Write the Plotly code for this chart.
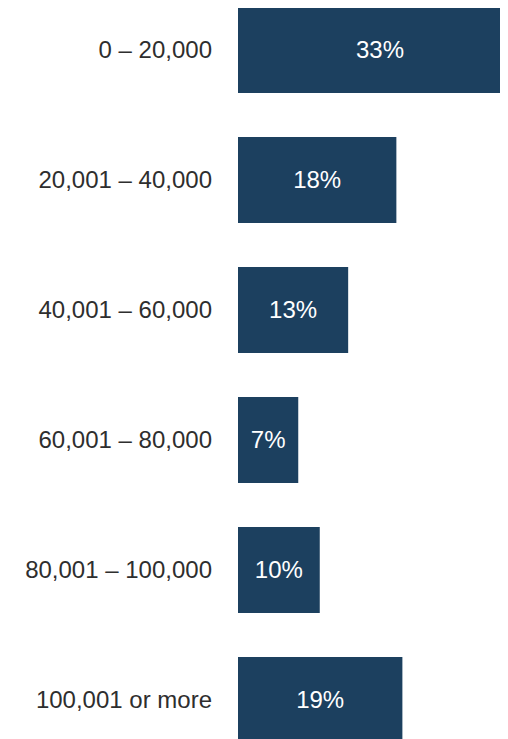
import plotly.graph_objects as go

categories = ["0 – 20,000", "20,001 – 40,000", "40,001 – 60,000",
              "60,001 – 80,000", "80,001 – 100,000", "100,001 or more"]
values = [33.0, 18.4, 12.8, 7.0, 9.5, 19.1]
labels = ["33%", "18%", "13%", "7%", "10%", "19%"]

fig = go.Figure(go.Bar(
    x=values, y=categories, orientation="h",
    marker=dict(color="#1C405F", line=dict(width=0)),
    text=labels, textposition="inside", insidetextanchor="middle",
    textfont=dict(color="white", size=24, family="Liberation Sans"),
    cliponaxis=True,
))
fig.update_layout(
    width=508, height=739,
    margin=dict(l=230, r=0, t=0, b=0),
    paper_bgcolor="white", plot_bgcolor="white",
    bargap=0.338, showlegend=False,
    font=dict(family="Liberation Sans", size=24, color="#2E2E2E"),
    uniformtext=dict(minsize=24, mode="show"),
)
fig.update_xaxes(range=[0, 32.3], visible=False, fixedrange=True)
fig.update_yaxes(type="category", range=[5.362, -0.323], showgrid=False,
                 showline=False, zeroline=False, ticks="",
                 ticklabelstandoff=25, tickfont=dict(size=24, color="#2E2E2E"))
fig.write_html("out.html")
